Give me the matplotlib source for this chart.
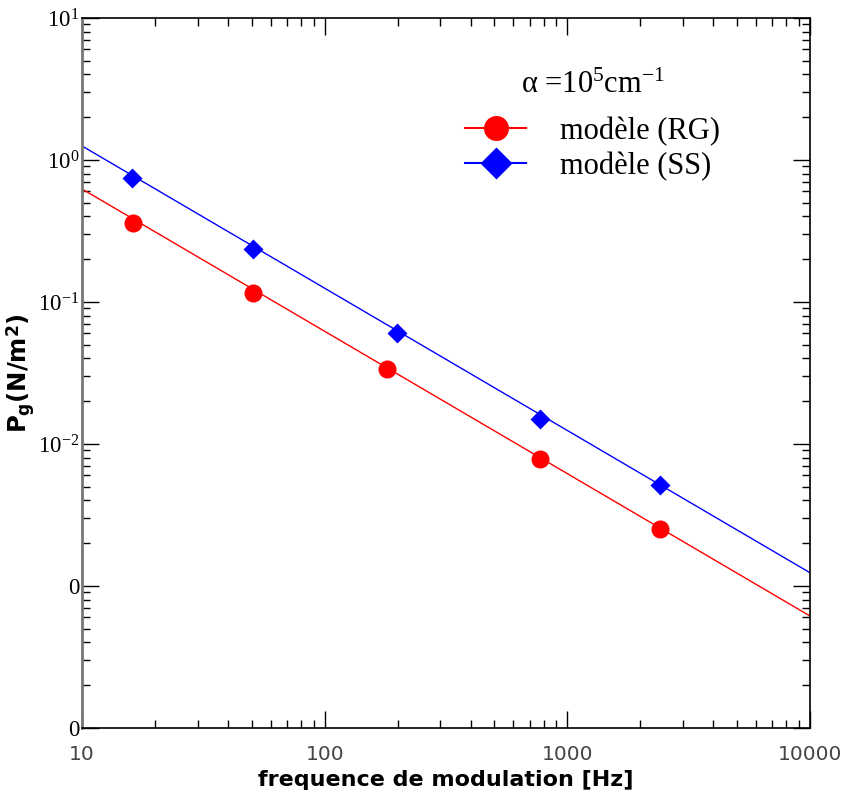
import matplotlib
matplotlib.use("Agg")
import matplotlib.pyplot as plt
from matplotlib.lines import Line2D
from matplotlib.ticker import FixedLocator, FixedFormatter, LogLocator, NullFormatter

plt.rcParams['mathtext.fontset'] = 'custom'
plt.rcParams['mathtext.rm'] = 'Liberation Serif'
plt.rcParams['mathtext.it'] = 'Liberation Serif:italic'
plt.rcParams['mathtext.bf'] = 'DejaVu Sans:bold'
plt.rcParams['mathtext.default'] = 'rm'

# measured points
freq_rg = [16.2, 50.6, 180, 774, 2415]
pg_rg = [0.362, 0.115, 0.0338, 0.0078, 0.00252]
freq_ss = [16.0, 50.6, 199, 774, 2415]
pg_ss = [0.752, 0.235, 0.0605, 0.0150, 0.00513]

# fitted lines (ends at plot limits)
fit_x = [10, 10000]
fit_rg = [0.625, 6.15e-4]
fit_ss = [1.255, 1.24e-3]

ytick_vals = [1e-4, 1e-3, 1e-2, 1e-1, 1e0, 1e1]
ytick_labels = ['0', '0', r'$10^{-2}$', r'$10^{-1}$', r'$10^{0}$', r'$10^{1}$']
xtick_vals = [10, 100, 1000, 10000]
xtick_labels = ['10', '100', '1000', '10000']

fig = plt.figure(figsize=(8.49, 7.99), dpi=100)
ax = fig.add_axes([0.0966, 0.0889, 0.8574, 0.8886])

ax.plot(fit_x, fit_rg, color='red', lw=1.0)
ax.plot(fit_x, fit_ss, color='blue', lw=1.0)
ax.plot(freq_rg, pg_rg, 'o', color='red', ms=13, mec='none')
ax.plot(freq_ss, pg_ss, 'D', color='blue', ms=10, mec='none')

ax.set_xscale('log')
ax.set_yscale('log')
ax.set_xlim(10, 10000)
ax.set_ylim(1e-4, 10)

ax.xaxis.set_major_locator(FixedLocator(xtick_vals))
ax.xaxis.set_major_formatter(FixedFormatter(xtick_labels))
ax.xaxis.set_minor_locator(LogLocator(base=10, subs=range(2, 10)))
ax.xaxis.set_minor_formatter(NullFormatter())
ax.yaxis.set_major_locator(FixedLocator(ytick_vals))
ax.yaxis.set_major_formatter(FixedFormatter(ytick_labels))
ax.yaxis.set_minor_locator(LogLocator(base=10, subs=range(2, 10)))
ax.yaxis.set_minor_formatter(NullFormatter())

ax.tick_params(which='both', direction='in', top=True, right=True, color='black')
ax.tick_params(which='major', length=12, width=1.0)
ax.tick_params(which='minor', length=6, width=1.0)
ax.tick_params(axis='x', which='major', pad=12, labelsize=14.5, labelcolor='#444444')
ax.tick_params(axis='y', which='major', pad=2, labelsize=16.5)
for lab in ax.get_yticklabels():
    lab.set_family('Liberation Serif')
for lab in ax.get_xticklabels():
    lab.set_family('DejaVu Sans')

ax.spines['left'].set_color('#777777')
ax.spines['left'].set_linewidth(2.0)
for s in ['top', 'right', 'bottom']:
    ax.spines[s].set_linewidth(1.2)

ax.set_xlabel('frequence de modulation [Hz]', fontsize=16, fontweight='bold')
ax.xaxis.set_label_coords(0.5, -0.059)
ax.set_ylabel(r'P$_\mathbf{g}$(N/m$^\mathbf{2}$)', fontsize=17.5, fontweight='bold')
ax.yaxis.set_label_coords(-0.062, 0.5)

handles = [
    Line2D([], [], color='red', lw=1.5, marker='o', ms=18, mec='none'),
    Line2D([], [], color='blue', lw=1.5, marker='D', ms=16, mec='none'),
]
leg = ax.legend(handles, ['modèle (RG)', 'modèle (SS)'], loc='upper left',
                bbox_to_anchor=(0.497, 0.956), frameon=False,
                prop={'family': 'Liberation Serif', 'size': 22},
                title='α =10$^5$cm$^{-1}$',
                title_fontproperties={'family': 'Liberation Serif', 'size': 22},
                handlelength=2.0, handletextpad=1.1, labelspacing=0.2,
                borderpad=0.2)
leg._legend_box.sep = 12

fig.savefig('out.png', dpi=100)
